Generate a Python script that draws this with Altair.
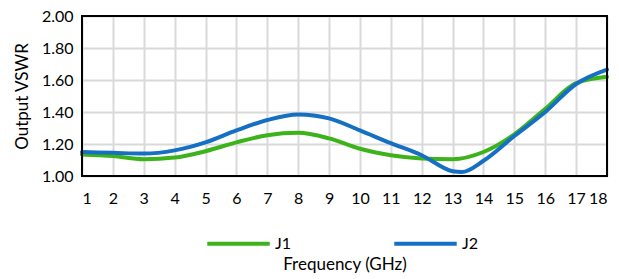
import altair as alt
import pandas as pd

freq = [1, 2, 3, 4, 5, 6, 7, 8, 9, 10, 11, 12, 13, 14, 15, 16, 17, 18]
j1 = [1.135, 1.125, 1.105, 1.115, 1.155, 1.21, 1.255, 1.27, 1.235, 1.17, 1.13, 1.11, 1.105, 1.15, 1.26, 1.42, 1.58, 1.62]
j2_freq = [1, 2, 3, 4, 5, 6, 7, 8, 9, 10, 11, 12, 13, 13.3, 14, 15, 16, 17, 18]
j2 = [1.15, 1.145, 1.14, 1.16, 1.21, 1.285, 1.35, 1.385, 1.36, 1.285, 1.205, 1.13, 1.03, 1.025, 1.095, 1.25, 1.40, 1.575, 1.665]

rows = [{"f": f, "v": v, "s": "J1"} for f, v in zip(freq, j1)]
rows += [{"f": f, "v": v, "s": "J2"} for f, v in zip(j2_freq, j2)]
df = pd.DataFrame(rows)

FONT = "Lato"
W, H = 525, 160

lines = alt.Chart(df).mark_line(interpolate="monotone", strokeWidth=4, strokeCap="round").encode(
    x=alt.X("f:Q", scale=alt.Scale(domain=[1, 18], nice=False, zero=False),
            axis=alt.Axis(values=freq, title="Frequency (GHz)", ticks=False, domain=False,
                          labelPadding=14, titlePadding=50, labelFontSize=16, titleFontSize=17,
                          labelFont=FONT, titleFont=FONT, titleFontWeight="normal",
                          labelColor="#000", titleColor="#000",
                          gridColor="#d9d9d9", gridWidth=2)),
    y=alt.Y("v:Q", scale=alt.Scale(domain=[1, 2], nice=False, zero=False),
            axis=alt.Axis(values=[1.0, 1.2, 1.4, 1.6, 1.8, 2.0], format=".2f", title="Output VSWR",
                          ticks=False, domain=False, labelPadding=9, titlePadding=10,
                          labelFontSize=16, titleFontSize=17, labelFont=FONT, titleFont=FONT,
                          titleFontWeight="normal", labelColor="#000", titleColor="#000",
                          gridColor="#d9d9d9", gridWidth=2)),
    color=alt.Color("s:N", scale=alt.Scale(domain=["J1", "J2"], range=["#3cb31a", "#1570c4"]),
                    legend=alt.Legend(title=None, orient="none", direction="horizontal",
                                      legendX=123, legendY=194, symbolType="stroke",
                                      symbolSize=3900, symbolStrokeWidth=4, labelOffset=3,
                                      columnPadding=94, labelFontSize=16, labelFont=FONT,
                                      labelColor="#000")),
)

frame = alt.Chart(pd.DataFrame({"k": [0]})).mark_rect(fill=None, stroke="black", strokeWidth=2).encode(
    x=alt.value(0), x2=alt.value(W), y=alt.value(0), y2=alt.value(H)
)

chart = alt.layer(lines, frame).properties(
    width=W, height=H,
    background="white",
    autosize=alt.AutoSizeParams(type="none"),
    padding={"left": 74, "top": 8, "right": 4, "bottom": 102},
).configure_view(stroke=None)

chart.save("out.html", embed_options={"renderer": "svg", "actions": False})
